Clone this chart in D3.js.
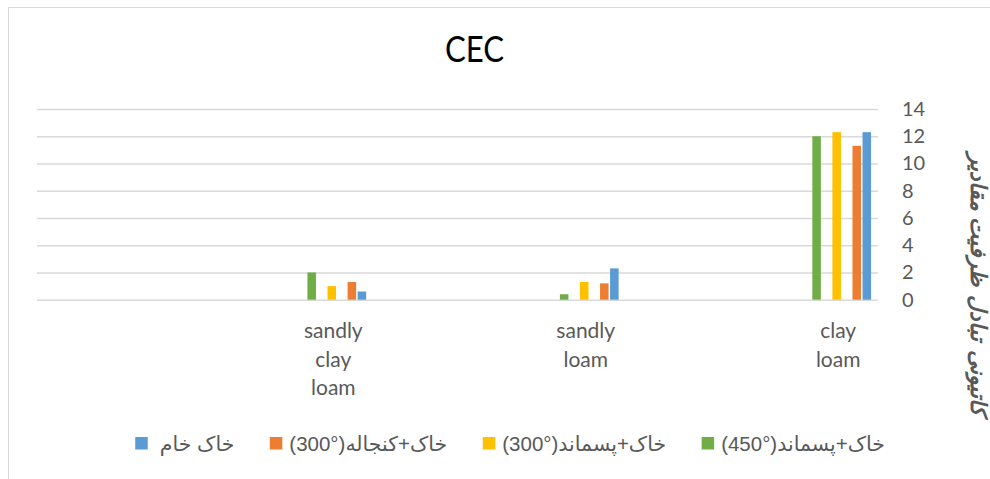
<!DOCTYPE html>
<html><head><meta charset="utf-8">
<script src="https://cdn.jsdelivr.net/npm/d3@7"></script>
<style>body{margin:0;background:#fff;position:relative;} svg{display:block}</style>
</head><body><svg id="chart" width="990" height="479"></svg>
<script>
// ---------- data ----------
const chartTitle = "CEC";
const yAxisTitle = "مقادیر ظرفیت تبادل کاتیونی";
const categories = ["clay loam", "sandly loam", "sandly clay loam"];
const seriesNames = ["خاک خام", "خاک+کنجاله(300°)", "خاک+پسماند(300°)", "خاک+پسماند(450°)"];
const seriesColors = ["#5B9BD5", "#ED7D31", "#FFC000", "#70AD47"];
const rawSoil      = [12.3, 2.3, 0.6];
const soilMeal300  = [11.3, 1.2, 1.3];
const soilWaste300 = [12.3, 1.3, 1.0];
const soilWaste450 = [12.0, 0.4, 2.0];
const yTicks = [0, 2, 4, 6, 8, 10, 12, 14];
// cluster slots (two unnamed, empty series sit between visible ones)
const slotKeys = ["خاک خام", "خاک+کنجاله(300°)", "empty-1", "خاک+پسماند(300°)", "empty-2", "خاک+پسماند(450°)"];

const seriesValues = [rawSoil, soilMeal300, soilWaste300, soilWaste450];
const series = seriesNames.map((name, i) => ({name, color: seriesColors[i], values: seriesValues[i]}));

// ---------- layout ----------
const svg = d3.select("#chart");
const plotLeft = 37, plotRight = 878, plotTop = 109, plotBottom = 299.7;
const grey = "#595959";
const latin = "Lato, 'Open Sans', sans-serif";
const arabic = "'Liberation Sans', 'DejaVu Sans', sans-serif";

// chart border
svg.append("rect").attr("x", 8.5).attr("y", 7.5).attr("width", 1000).attr("height", 500)
  .attr("fill", "none").attr("stroke", "#d9d9d9").attr("stroke-width", 1);

const y = d3.scaleLinear().domain([0, 14]).range([plotBottom, plotTop]);
const x = d3.scalePoint().domain(categories).range([841.7, 336.8]);
const slot = d3.scaleBand().domain(slotKeys).range([30.12, -30.12]).paddingInner(0.15).paddingOuter(0.075);

// gridlines
const grid = svg.append("g").attr("transform", `translate(${plotRight},0)`)
  .call(d3.axisRight(y).tickValues(yTicks).tickSize(-(plotRight - plotLeft)).tickFormat(""));
grid.select(".domain").remove();
grid.selectAll("line").attr("stroke", "#d9d9d9").attr("stroke-width", 1.5);

// y tick labels (right side)
const yAx = svg.append("g").attr("transform", `translate(${plotRight},0)`)
  .call(d3.axisRight(y).tickValues(yTicks).tickSize(0).tickPadding(24));
yAx.select(".domain").remove();
yAx.selectAll("text").attr("fill", grey).attr("font-family", latin).attr("font-size", 20);

// bars
series.forEach(s => {
  svg.append("g").selectAll("rect").data(categories.map((c, i) => ({c, v: s.values[i]})))
    .join("rect")
    .attr("x", d => x(d.c) + slot(s.name))
    .attr("width", slot.bandwidth())
    .attr("y", d => y(d.v))
    .attr("height", d => y(0) - y(d.v))
    .attr("fill", s.color);
});

// category labels
const xAx = svg.append("g").attr("transform", `translate(-4,${plotBottom})`)
  .call(d3.axisBottom(x).tickSize(0).tickPadding(0));
xAx.select(".domain").remove();
xAx.selectAll("text").attr("fill", grey).attr("font-family", latin).attr("font-size", 21)
  .attr("dy", null).attr("y", 0)
  .each(function (d) {
    const t = d3.select(this); t.text(null);
    d.split(" ").forEach((w, i) => t.append("tspan").attr("x", 0).attr("y", 38.8 + i * 28.5).text(w));
  });

// title
svg.append("text").attr("x", 474.5).attr("y", 61.5).attr("text-anchor", "middle")
  .attr("font-family", latin).attr("font-size", 36).attr("fill", "#000")
  .attr("textLength", 59).attr("lengthAdjust", "spacingAndGlyphs").text(chartTitle);

// y-axis title (rotated; words run top to bottom)
const yt = svg.append("g").attr("transform", "translate(978,286) rotate(90)");
const words = yAxisTitle.split(" ");
const wEls = words.map(w => yt.append("text").attr("font-family", arabic).attr("font-weight", "bold")
  .attr("font-style", "italic").attr("font-size", 20).attr("fill", grey).attr("direction", "rtl")
  .attr("dominant-baseline", "central").text(w));
const spaceW = 6;
const widths = wEls.map(e => e.node().getBBox().width);
const total = d3.sum(widths) + spaceW * (words.length - 1);
const scaleF = 273 / total;
wEls.forEach(e => e.attr("font-size", 20 * scaleF));
let cur = -273 / 2;
wEls.forEach(e => {
  e.attr("x", 0);
  const b2 = e.node().getBBox();
  e.attr("transform", `translate(${cur - b2.x},0)`);
  cur += b2.width + spaceW * scaleF;
});

// legend (HTML overlay for reliable bidi; laid out right to left)
const legendLayer = d3.select("body").append("div")
  .style("position", "absolute").style("left", "0px").style("top", "0px")
  .style("width", "990px").style("height", "479px").style("pointer-events", "none");
let right = 885;
[3, 2, 1, 0].forEach(i => {
  const s = series[i];
  const m = s.name.match(/^(.*?)(\(.*\))$/);
  const t = legendLayer.append("div").attr("dir", "rtl")
    .style("position", "absolute").style("left", "0px").style("top", "433px")
    .style("white-space", "nowrap").style("font-family", arabic).style("font-size", "20.5px")
    .style("line-height", "21px").style("color", grey);
  if (m) {
    t.append("span").text(m[1]);
    t.append("span").attr("dir", "ltr").style("unicode-bidi", "isolate").text(m[2]);
  } else t.text(s.name);
  const w = t.node().getBoundingClientRect().width;
  t.style("left", (right - w) + "px");
  const gap = m ? 7 : 12;
  const mx = right - w - gap - 12.5;
  svg.append("rect").attr("x", mx).attr("y", 437).attr("width", 12.5).attr("height", 12.5).attr("fill", s.color);
  right = mx - 35.5;
});
</script></body></html>
